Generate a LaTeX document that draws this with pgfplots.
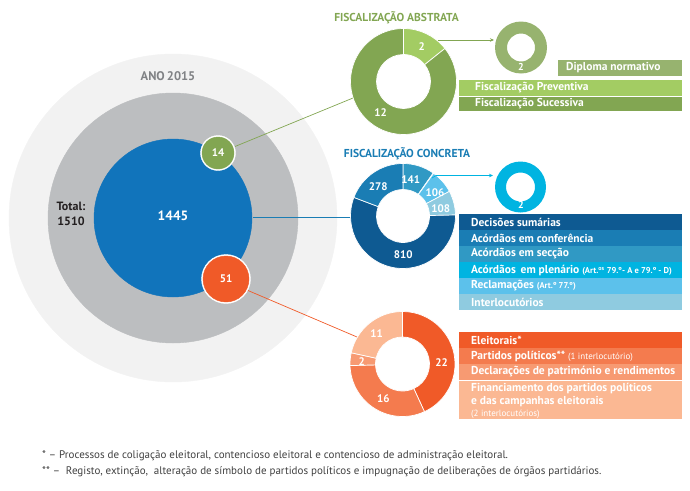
\documentclass[border=0pt]{standalone}
\usepackage{pgfplots}
\pgfplotsset{compat=1.18}
\usepackage{fontspec}
\setmainfont{PT Sans}
\usetikzlibrary{calc,arrows.meta}
\definecolor{bgA}{HTML}{F2F2F2}
\definecolor{bgB}{HTML}{BCBEC0}
\definecolor{bigBlue}{HTML}{1174BB}
\definecolor{gA}{HTML}{A3CC63}
\definecolor{gB}{HTML}{82A652}
\definecolor{gD}{HTML}{97B36F}
\definecolor{rA}{HTML}{F05A28}
\definecolor{rB}{HTML}{F47B4E}
\definecolor{rC}{HTML}{F79A72}
\definecolor{rD}{HTML}{FBB893}
\definecolor{b1}{HTML}{0E5A92}
\definecolor{b2}{HTML}{1A7DB4}
\definecolor{b3}{HTML}{3099C4}
\definecolor{b4}{HTML}{00B4E1}
\definecolor{b5}{HTML}{5CC1EB}
\definecolor{b6}{HTML}{8FCBE0}
\definecolor{txtGray}{HTML}{808285}
\definecolor{txtDark}{HTML}{231F20}
\definecolor{foot}{HTML}{404040}
% cx cy rout rin start value total color
\newcommand{\slice}[8]{%
  \fill[#8, draw=white, line width=0.7pt]
    (axis cs:#1,#2) ++({90-(#5)/(#7)*360}:#3pt)
    arc[start angle={90-(#5)/(#7)*360}, end angle={90-(#5+#6)/(#7)*360}, radius=#3pt]
    -- ($(axis cs:#1,#2)+({90-(#5+#6)/(#7)*360}:#4pt)$)
    arc[start angle={90-(#5+#6)/(#7)*360}, end angle={90-(#5)/(#7)*360}, radius=#4pt]
    -- cycle;}
\newcommand{\ring}[5]{%
  \fill[#5, even odd rule] (axis cs:#1,#2) circle[radius=#3pt] (axis cs:#1,#2) circle[radius=#4pt];}
\newcommand{\lbar}[5]{\fill[#5] (axis cs:#1,#2) rectangle (axis cs:#3,#4);}
\tikzset{lg/.style={anchor=west, text=white, font=\bfseries\fontsize{11.5}{11.5}\selectfont, inner sep=0pt},
  dl/.style={text=white, font=\bfseries\fontsize{11}{11}\selectfont, inner sep=0pt}}
\pgfplotsset{canvas/.style={
  at={(0,0)}, anchor=south west,
  scale only axis, width=690pt, height=490pt,
  xmin=0, xmax=690, ymin=0, ymax=490, y dir=reverse,
  hide axis, clip=false}}
\begin{document}
\begin{tikzpicture}
\useasboundingbox (0,0) rectangle (690pt,490pt);
% first axis: the bubbles
\begin{axis}[canvas]
\addplot[only marks, mark=*, color=bgA, mark size=164pt] coordinates {(173,218)};
\addplot[only marks, mark=*, color=bgB, mark size=125pt] coordinates {(173,218)};
\addplot[only marks, mark=*, color=bigBlue, mark size=79pt] coordinates {(173,218)};
\addplot[only marks, mark=*, color=white, mark size=17.5pt] coordinates {(218,153)};
\addplot[only marks, mark=*, color=gB, mark size=16pt] coordinates {(218,153)};
\addplot[only marks, mark=*, color=white, mark size=24.5pt] coordinates {(226,279)};
\addplot[only marks, mark=*, color=rA, mark size=23pt] coordinates {(226,279)};
\end{axis}
% second axis: donuts, legends and text
\begin{axis}[canvas]
% connector lines
\draw[gB, line width=0.7pt] (axis cs:235,146.5) -- (axis cs:353,98);
\draw[b2, line width=0.7pt] (axis cs:253,217.5) -- (axis cs:350,217.5);
\draw[rA, line width=0.7pt] (axis cs:248,290.5) -- (axis cs:357,337);
\node[text=white, font=\bfseries\fontsize{13.5}{13.5}\selectfont] at (axis cs:173,216) {1445};
\node[text=white, font=\bfseries\fontsize{11}{11}\selectfont] at (axis cs:218,153) {14};
\node[text=white, font=\bfseries\fontsize{11}{11}\selectfont] at (axis cs:226,279) {51};
\node[text=txtGray, font=\bfseries\fontsize{12.5}{12.5}\selectfont] at (axis cs:168,76) {ANO\,2015};
\node[text=txtDark, font=\bfseries\fontsize{12}{15.5}\selectfont, align=center] at (axis cs:71,214) {Total:\\1510};
% Fiscalizacao abstrata donut (total 14)
\slice{403.5}{81.5}{53}{27}{0}{2}{14}{gA}
\slice{403.5}{81.5}{53}{27}{2}{12}{14}{gB}
\node[dl] at (axis cs:421.7,46.7) {2};
\node[dl] at (axis cs:380.7,112.7) {12};
\node[text=gB, font=\bfseries\fontsize{11.5}{11.5}\selectfont] at (axis cs:396.5,18) {FISCALIZAÇÃO ABSTRATA};
\draw[gB, line width=0.7pt, -{Stealth[length=4pt,width=3.5pt]}] (axis cs:438,40) -- (axis cs:494,40);
\ring{521}{47.5}{26}{14}{gD}
\node[dl, font=\bfseries\fontsize{10}{10}\selectfont] at (axis cs:521,67) {2};
% green legend
\lbar{558}{60}{682}{75.5}{gD}
\node[lg] at (axis cs:566,67.5) {Diploma normativo};
\lbar{459}{80}{682}{96}{gA}
\lbar{459}{96.8}{682}{111}{gB}
\node[lg] at (axis cs:475,88) {Fiscalização Preventiva};
\node[lg] at (axis cs:475,103.5) {Fiscalização Sucessiva};
% Fiscalizacao concreta donut (total 1445)
\slice{403}{216}{52.5}{26.5}{0}{141}{1445}{b3}
\slice{403}{216}{52.5}{26.5}{141}{2}{1445}{b4}
\slice{403}{216}{52.5}{26.5}{143}{106}{1445}{b5}
\slice{403}{216}{52.5}{26.5}{249}{108}{1445}{b6}
\slice{403}{216}{52.5}{26.5}{357}{810}{1445}{b1}
\slice{403}{216}{52.5}{26.5}{1167}{278}{1445}{b2}
\node[dl] at (axis cs:410.7,180) {141};
\node[dl] at (axis cs:435,192.5) {106};
\node[dl] at (axis cs:440.7,209) {108};
\node[dl] at (axis cs:378.3,186.7) {278};
\node[dl] at (axis cs:403.3,255) {810};
\node[text=b2, font=\bfseries\fontsize{11.5}{11.5}\selectfont] at (axis cs:407,154) {FISCALIZAÇÃO CONCRETA};
\draw[b4, line width=0.7pt, -{Stealth[length=4pt,width=3.5pt]}] (axis cs:432,178) -- (axis cs:436,175.5) -- (axis cs:493,175.5);
\ring{520.5}{187}{25.5}{14.5}{b4}
\node[dl, font=\bfseries\fontsize{10}{10}\selectfont] at (axis cs:521,204.5) {2};
% blue legend
\lbar{459}{214}{682}{230}{b1}
\lbar{459}{230}{682}{246}{b2}
\lbar{459}{246}{682}{262}{b3}
\lbar{459}{262}{682}{278}{b4}
\lbar{459}{278}{682}{294}{b5}
\lbar{459}{294}{682}{310}{b6}
\node[lg] at (axis cs:471,222) {Decisões sumárias};
\node[lg] at (axis cs:471,238) {Acórdãos em conferência};
\node[lg] at (axis cs:471,254) {Acórdãos em secção};
\node[lg] at (axis cs:471,270) {Acórdãos\, em plenário {\fontsize{8.5}{8.5}\selectfont(Art.\textsuperscript{os} 79.º- A e 79.º - D)}};
\node[lg] at (axis cs:471,286) {Reclamações {\fontsize{8.5}{8.5}\selectfont(Art.º 77.º)}};
\node[lg] at (axis cs:471,302) {Interlocutórios};
% red donut (total 51)
\slice{402.5}{364}{52.5}{27}{0}{22}{51}{rA}
\slice{402.5}{364}{52.5}{27}{22}{16}{51}{rB}
\slice{402.5}{364}{52.5}{27}{38}{2}{51}{rC}
\slice{402.5}{364}{52.5}{27}{40}{11}{51}{rD}
\node[dl] at (axis cs:441.7,362.3) {22};
\node[dl] at (axis cs:383.3,399) {16};
\node[dl] at (axis cs:361.7,361.7) {2};
\node[dl] at (axis cs:376.7,334) {11};
% red legend
\lbar{459}{332}{682}{348}{rA}
\lbar{459}{348}{682}{364}{rB}
\lbar{459}{364}{682}{380}{rC}
\lbar{459}{380.8}{682}{419}{rD}
\node[lg] at (axis cs:471,340) {Eleitorais*};
\node[lg] at (axis cs:471,356) {Partidos políticos** {\mdseries\fontsize{9}{9}\selectfont(1 interlocutório)}};
\node[lg] at (axis cs:471,372) {Declarações de património e rendimentos};
\node[lg] at (axis cs:471,389) {Financiamento dos partidos políticos};
\node[lg] at (axis cs:471,401.5) {e das campanhas eleitorais};
\node[lg, font=\fontsize{9}{9}\selectfont] at (axis cs:471,414) {(2 interlocutórios)};
% footnotes
\node[anchor=west, inner sep=0pt, text=foot, font=\fontsize{11}{11}\selectfont] at (axis cs:42,456) {* – Processos de coligação eleitoral, contencioso eleitoral e contencioso de administração eleitoral.};
\node[anchor=west, inner sep=0pt, text=foot, font=\fontsize{11}{11}\selectfont] at (axis cs:42,472) {** –\ \ Registo, extinção,\ \ alteração de símbolo de partidos políticos e impugnação de deliberações de órgãos partidários.};
\end{axis}
\end{tikzpicture}
\end{document}
